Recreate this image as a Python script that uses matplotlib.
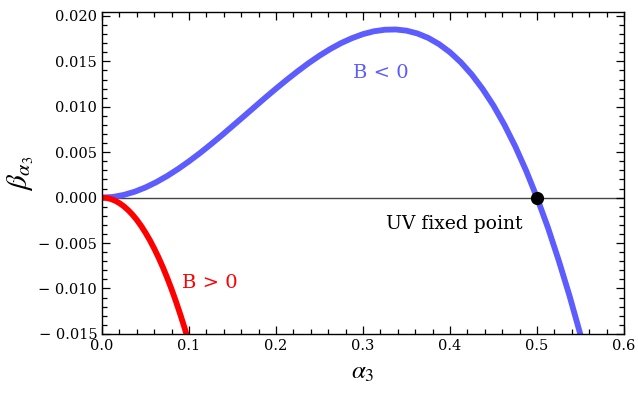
import matplotlib
matplotlib.use("Agg")
import matplotlib.pyplot as plt
from matplotlib.ticker import MultipleLocator, FuncFormatter

# Data
blue_x = [0.0, 0.0125, 0.025, 0.0375, 0.05, 0.0625, 0.075, 0.0875, 0.1, 0.1125,
          0.125, 0.1375, 0.15, 0.1625, 0.175, 0.1875, 0.2, 0.2125, 0.225, 0.2375,
          0.25, 0.2625, 0.275, 0.2875, 0.3, 0.3125, 0.325, 0.3375, 0.35, 0.3625,
          0.375, 0.3875, 0.4, 0.4125, 0.425, 0.4375, 0.45, 0.4625, 0.475, 0.4875,
          0.5, 0.5125, 0.525, 0.5375, 0.55]
blue_y = [0.0, 0.000076, 0.000297, 0.00065, 0.001125, 0.00171, 0.00239, 0.00316,
          0.004, 0.0049, 0.00586, 0.00685, 0.00788, 0.00891, 0.00995, 0.01099,
          0.012, 0.01298, 0.01392, 0.01481, 0.01563, 0.01637, 0.01702, 0.01756,
          0.018, 0.01831, 0.01848, 0.01851, 0.01838, 0.01807, 0.01758, 0.01689,
          0.016, 0.01489, 0.01355, 0.01196, 0.01013, 0.00802, 0.00564, 0.00297,
          0.0, -0.00328, -0.00692, -0.01084, -0.0151]
red_x = [0.0, 0.005, 0.01, 0.015, 0.02, 0.025, 0.03, 0.035, 0.04, 0.045, 0.05,
         0.055, 0.06, 0.065, 0.07, 0.075, 0.08, 0.085, 0.09, 0.095, 0.1]
red_y = [0.0, -0.0000375, -0.00015, -0.000341, -0.00061, -0.000953, -0.00138,
         -0.00188, -0.00246, -0.00313, -0.00388, -0.0047, -0.00562, -0.00661,
         -0.00769, -0.00886, -0.01011, -0.01145, -0.01288, -0.01439, -0.016]
fixed_point = (0.5, 0.0)

x_ticks = [0.0, 0.1, 0.2, 0.3, 0.4, 0.5, 0.6]
y_ticks = [-0.015, -0.010, -0.005, 0.0, 0.005, 0.010, 0.015, 0.020]

plt.rcParams['font.family'] = ['DejaVu Serif']
plt.rcParams['mathtext.fontset'] = 'stix'

fig = plt.figure(figsize=(6.38, 3.97), dpi=100)
ax = fig.add_axes([0.160, 0.159, 0.818, 0.810])

ax.axhline(0, color='#444444', lw=1.0, zorder=1)
ax.plot(blue_x, blue_y, color='#5c5cff', lw=4.2, solid_capstyle='butt',
        solid_joinstyle='round', zorder=2)
ax.plot(red_x, red_y, color='#ff0000', lw=4.2, solid_capstyle='butt',
        solid_joinstyle='round', zorder=2)
ax.plot([fixed_point[0]], [fixed_point[1]], 'o', color='black', ms=8.5, zorder=3)

ax.text(0.321, 0.0137, 'B < 0', color='#5c5cff', fontsize=14, ha='center', va='center')
ax.text(0.124, -0.0094, 'B > 0', color='#ff0000', fontsize=14, ha='center', va='center')
ax.text(0.405, -0.0029, 'UV fixed point', color='black', fontsize=13.5,
        ha='center', va='center')

ax.set_xlim(0.0, 0.6)
ax.set_ylim(-0.015, 0.0204)
ax.set_xticks(x_ticks)
ax.set_yticks(y_ticks)
ax.xaxis.set_minor_locator(MultipleLocator(0.02))
ax.yaxis.set_minor_locator(MultipleLocator(0.001))
ax.xaxis.set_major_formatter(FuncFormatter(lambda v, p: f"{v:.1f}"))
ax.yaxis.set_major_formatter(FuncFormatter(
    lambda v, p: ("\u2212 " if v < -1e-12 else "") + f"{abs(v):.3f}"))
ax.tick_params(which='both', direction='in', top=True, right=True, labelsize=10.5,
               width=0.9, colors='black')
ax.tick_params(which='major', length=6)
ax.tick_params(which='minor', length=3.5)
for s in ax.spines.values():
    s.set_linewidth(1.0)

ax.set_xlabel(r'$\alpha_3$', fontsize=18, labelpad=6)
ax.set_ylabel(r'$\beta_{\alpha_3}$', fontsize=21, labelpad=2)

fig.savefig('out.png', dpi=100)
